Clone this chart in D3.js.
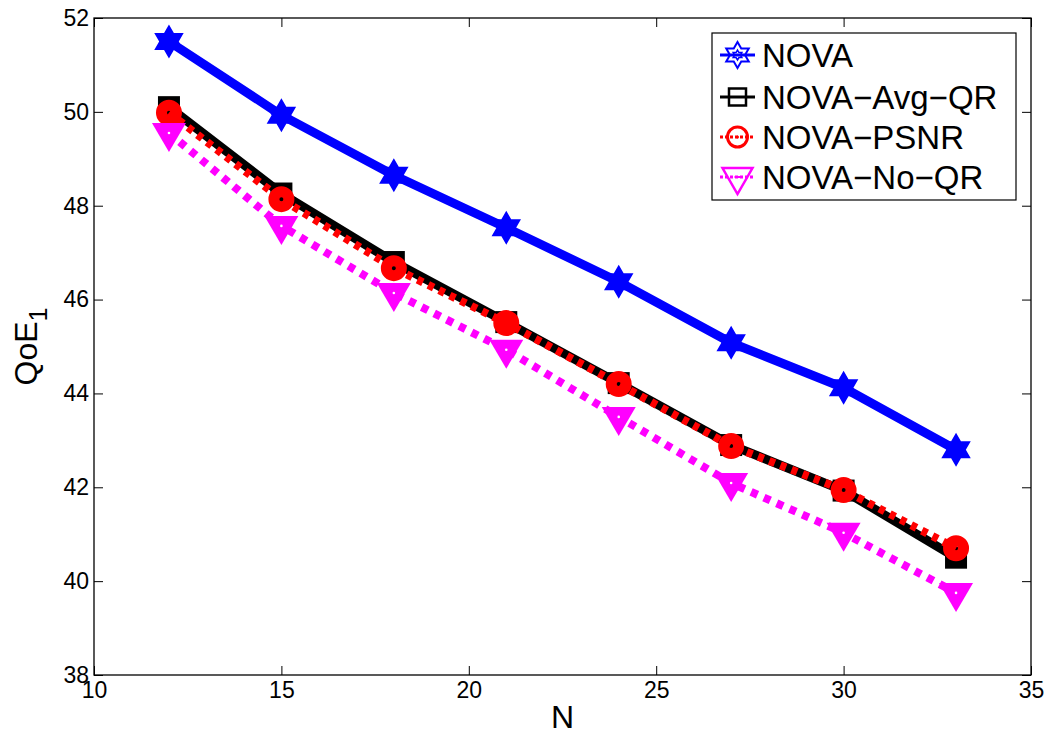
<!DOCTYPE html>
<html lang="en">
<head>
<meta charset="UTF-8">
<title>QoE vs N</title>
<script src="https://d3js.org/d3.v7.min.js"></script>
<style>
  body { margin: 0; background: #fff; }
  text { font-family: "Liberation Sans", Arial, sans-serif; fill: #000; }
</style>
</head>
<body>
<svg width="1050" height="736"></svg>
<script>
// data
const nValues = [12, 15, 18, 21, 24, 27, 30, 33];
const nova     = [51.5, 49.93, 48.65, 47.53, 46.38, 45.08, 44.12, 42.8];
const novaAvg  = [50.1, 48.26, 46.8, 45.52, 44.22, 42.9, 41.93, 40.5];
const novaPsnr = [49.98, 48.14, 46.67, 45.5, 44.2, 42.88, 41.94, 40.7];
const novaNoQr = [49.55, 47.57, 46.14, 44.93, 43.5, 42.09, 41.03, 39.75];
const seriesNames = ["NOVA", "NOVA\u2212Avg\u2212QR", "NOVA\u2212PSNR", "NOVA\u2212No\u2212QR"];
const xTicks = [10, 15, 20, 25, 30, 35];
const yTicks = [38, 40, 42, 44, 46, 48, 50, 52];

const series = [
  {name: seriesNames[0], values: nova,     color: "#0000ff", dash: null,  marker: "star"},
  {name: seriesNames[1], values: novaAvg,  color: "#000000", dash: null,  marker: "square"},
  {name: seriesNames[2], values: novaPsnr, color: "#ff0000", dash: "6,6", marker: "circle"},
  {name: seriesNames[3], values: novaNoQr, color: "#ff00ff", dash: "7,7", marker: "triangle"}
];

const svg = d3.select("svg");
const m = {left: 94, top: 18, right: 1031, bottom: 675};

const x = d3.scaleLinear().domain([10, 35]).range([m.left, m.right]);
const y = d3.scaleLinear().domain([38, 52]).range([m.bottom, m.top]);

// axes with inward ticks on all four sides
const tickLen = 9;
svg.append("g").attr("transform", `translate(0,${m.bottom})`)
  .call(d3.axisBottom(x).tickValues(xTicks).tickSizeInner(-tickLen).tickSizeOuter(0).tickPadding(7))
  .call(g => g.select(".domain").remove());
svg.append("g").attr("transform", `translate(0,${m.top})`)
  .call(d3.axisTop(x).tickValues(xTicks).tickSizeInner(-tickLen).tickSizeOuter(0).tickFormat(""))
  .call(g => g.select(".domain").remove());
svg.append("g").attr("transform", `translate(${m.left},0)`)
  .call(d3.axisLeft(y).tickValues(yTicks).tickSizeInner(-tickLen).tickSizeOuter(0).tickPadding(5))
  .call(g => g.select(".domain").remove());
svg.append("g").attr("transform", `translate(${m.right},0)`)
  .call(d3.axisRight(y).tickValues(yTicks).tickSizeInner(-tickLen).tickSizeOuter(0).tickFormat(""))
  .call(g => g.select(".domain").remove());
svg.selectAll(".tick line").attr("stroke", "#000").attr("stroke-width", 1);
svg.selectAll(".tick text")
  .style("font-family", "'Liberation Sans', Arial, sans-serif")
  .style("font-size", "23px");

svg.append("rect")
  .attr("x", m.left).attr("y", m.top)
  .attr("width", m.right - m.left).attr("height", m.bottom - m.top)
  .attr("fill", "none").attr("stroke", "#000").attr("stroke-width", 1.3);

// marker paths
function starPath(R) {
  const r = R / Math.sqrt(3), pts = [];
  for (let k = 0; k < 12; k++) {
    const a = (-90 + 30 * k) * Math.PI / 180;
    const rad = k % 2 === 0 ? R : r;
    pts.push([rad * Math.cos(a), rad * Math.sin(a)]);
  }
  return "M" + pts.map(p => p.join(",")).join("L") + "Z";
}
function triPath(w, up, down) {
  return `M${-w},${-up}L${w},${-up}L0,${down}Z`;
}

function drawMarker(g, type, color, big) {
  if (type === "star") {
    g.append("path").attr("d", starPath(big ? 17 : 13))
      .attr("fill", big ? color : "none").attr("stroke", color).attr("stroke-width", big ? 0 : 2);
    if (!big) g.append("path").attr("d", starPath(5)).attr("fill", "none").attr("stroke", color).attr("stroke-width", 1.5);
  } else if (type === "square") {
    const s = big ? 22 : 17;
    g.append("rect").attr("x", -s / 2).attr("y", -s / 2).attr("width", s).attr("height", s)
      .attr("fill", big ? color : "none").attr("stroke", color).attr("stroke-width", big ? 0 : 2.5);
  } else if (type === "circle") {
    g.append("circle").attr("r", big ? 7.5 : 10)
      .attr("fill", "none").attr("stroke", color).attr("stroke-width", big ? 11 : 3);
    if (!big) g.append("circle").attr("r", 1.5).attr("fill", color);
  } else {
    if (big) {
      g.append("path").attr("d", triPath(17, 10, 19)).attr("fill", color);
      g.append("circle").attr("r", 1.3).attr("fill", "#fff");
    } else {
      g.append("path").attr("d", triPath(15, 9, 17)).attr("fill", "none")
        .attr("stroke", color).attr("stroke-width", 2.5);
      g.append("path").attr("d", "M-3,0L3,0").attr("stroke", color).attr("stroke-width", 2);
    }
  }
}

const line = d3.line().x((d, i) => x(nValues[i])).y(d => y(d));

series.forEach(s => {
  const g = svg.append("g");
  g.append("path").datum(s.values)
    .attr("d", line)
    .attr("fill", "none")
    .attr("stroke", s.color)
    .attr("stroke-width", s.dash ? 8 : 9)
    .attr("stroke-dasharray", s.dash)
    .attr("stroke-linejoin", "round");
  g.selectAll("g.mk").data(s.values).enter().append("g")
    .attr("class", "mk")
    .attr("transform", (d, i) => `translate(${x(nValues[i])},${y(d)})`)
    .each(function() { drawMarker(d3.select(this), s.marker, s.color, true); });
});

// axis titles
svg.append("text")
  .attr("x", (m.left + m.right) / 2).attr("y", 728)
  .attr("text-anchor", "middle").attr("font-size", 32).text("N");
const yt = svg.append("text")
  .attr("transform", `translate(37,${(m.top + m.bottom) / 2}) rotate(-90)`)
  .attr("text-anchor", "middle").attr("font-size", 32);
yt.append("tspan").text("QoE");
yt.append("tspan").attr("font-size", 25).attr("dy", 10).text("1");

// legend
const lg = svg.append("g");
lg.append("rect").attr("x", 712).attr("y", 33).attr("width", 304).attr("height", 167)
  .attr("fill", "#fff").attr("stroke", "#000").attr("stroke-width", 1.2);
const rowY = [55, 97, 137, 177];
series.forEach((s, i) => {
  const row = lg.append("g").attr("transform", `translate(0,${rowY[i]})`);
  row.append("line").attr("x1", 720).attr("x2", 755).attr("y1", 0).attr("y2", 0)
    .attr("stroke", s.color).attr("stroke-width", 3)
    .attr("stroke-dasharray", s.dash ? "3,2" : null);
  drawMarker(row.append("g").attr("transform", "translate(737.5,0)"), s.marker, s.color, false);
  row.append("text").attr("x", 762).attr("y", 12).attr("font-size", 33).text(s.name);
});
</script>
</body>
</html>
